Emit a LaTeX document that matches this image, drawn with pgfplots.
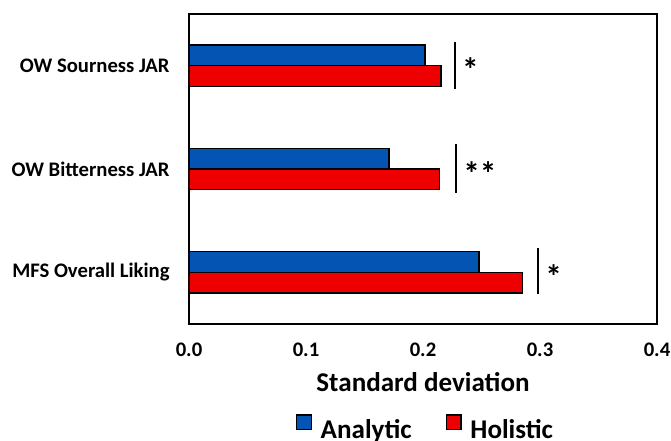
\documentclass[border=0pt]{standalone}
\usepackage{fontspec}
\setmainfont{Carlito}
\usepackage{pgfplots}
\pgfplotsset{compat=1.18}
\definecolor{anblue}{RGB}{4,84,180}
\definecolor{hored}{RGB}{238,0,0}
\begin{document}
\begin{tikzpicture}
\begin{axis}[
  at={(141.75pt,87pt)}, anchor=south west,
  scale only axis, width=351pt, height=232.5pt,
  xmin=0, xmax=0.4, ymin=-0.5, ymax=2.5,
  xtick={0,0.1,0.2,0.3,0.4},
  xticklabel style={/pgf/number format/.cd,fixed,fixed zerofill,precision=1,/tikz/.cd},
  /pgf/number format/assume math mode=true,
  ytick={0,1,2},
  yticklabels={MFS Overall Liking, OW Bitterness JAR, OW Sourness JAR},
  major tick length=0pt,
  tick label style={font=\fontsize{15.5}{18}\selectfont\bfseries},
  xticklabel style={yshift=-11pt},
  yticklabel style={xshift=-11pt},
  xlabel={Standard deviation},
  xlabel style={font=\fontsize{20.3}{24}\selectfont\bfseries, yshift=-4.5pt},
  axis line style={black, line width=1.3pt},
  xbar, bar width=0.2,
  legend columns=2,
  legend style={at={(0.504,-0.337)}, anchor=center, draw=none, fill=none,
    font=\fontsize{20.3}{24}\selectfont\bfseries,
    /tikz/every even column/.append style={column sep=22pt},
    inner sep=0pt},
  legend image code/.code={\draw[#1, draw=black, line width=1pt] (1.5pt,0pt) rectangle (12.5pt,11pt); \path (0pt,0pt) (17pt,0pt);},
]
\addplot[fill=anblue, draw=black, line width=1pt, bar shift=0.1] coordinates {(0.248,0) (0.171,1) (0.2017,2)};
\addlegendentry{Analytic}
\addplot[fill=hored, draw=black, line width=1pt, bar shift=-0.1] coordinates {(0.285,0) (0.214,1) (0.2154,2)};
\addlegendentry{Holistic}
\draw[line width=1.4pt] (axis cs:0.2274,1.775) -- (axis cs:0.2274,2.23);
\draw[line width=1.4pt] (axis cs:0.2283,0.77) -- (axis cs:0.2283,1.24);
\draw[line width=1.4pt] (axis cs:0.2983,-0.21) -- (axis cs:0.2983,0.235);
\node[anchor=west, font=\fontsize{25}{28}\selectfont\bfseries] at (axis cs:0.2295,1.96) {*};
\node[anchor=west, font=\fontsize{25}{28}\selectfont\bfseries] at (axis cs:0.2305,0.96) {**};
\node[anchor=west, font=\fontsize{25}{28}\selectfont\bfseries] at (axis cs:0.3005,-0.04) {*};
\end{axis}
\pgfresetboundingbox
\useasboundingbox (0pt,0pt) rectangle (503.25pt,330pt);
\end{tikzpicture}
\end{document}
